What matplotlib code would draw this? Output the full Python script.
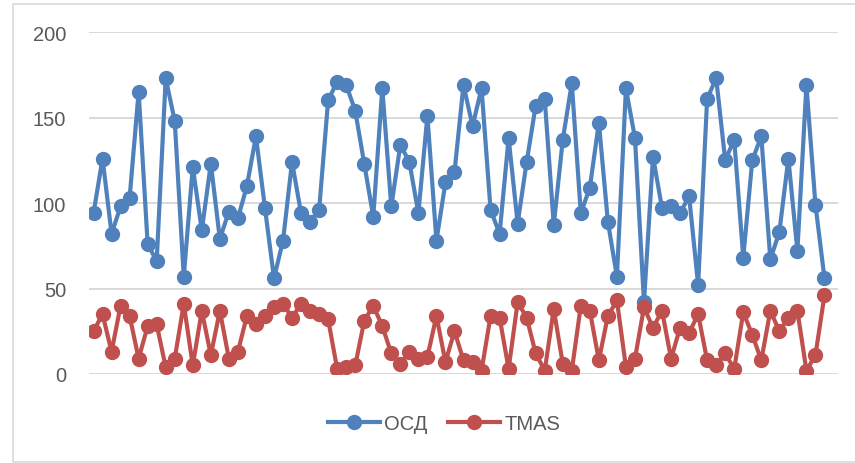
import matplotlib
matplotlib.use("Agg")
import matplotlib.pyplot as plt
from matplotlib.patches import Rectangle
from matplotlib.lines import Line2D

plt.rcParams['font.family'] = ['Liberation Sans', 'DejaVu Sans']

osd = [94, 126, 82, 98, 103, 165, 76, 66, 173, 148, 57, 121, 84, 123, 79, 95, 91, 110, 139, 97, 56,
       78, 124, 94, 89, 96, 160, 171, 169, 154, 123, 92, 167, 98, 134, 124, 94, 151, 78, 112, 118, 169,
       145, 167, 96, 82, 138, 88, 124, 157, 161, 87, 137, 170, 94, 109, 147, 89, 57, 167, 138, 42, 127,
       97, 98, 94, 104, 52, 161, 173, 125, 137, 68, 125, 139, 67, 83, 126, 72, 169, 99, 56]

tmas = [25, 35, 13, 40, 34, 9, 28, 29, 4, 9, 41, 5, 37, 11, 37, 9, 13, 34, 29, 34, 39,
        41, 33, 41, 37, 35, 32, 3, 4, 5, 31, 40, 28, 12, 6, 13, 9, 10, 34, 7, 25, 8,
        7, 2, 34, 33, 3, 42, 33, 12, 2, 38, 6, 2, 40, 37, 8, 34, 43, 4, 9, 39, 27,
        37, 9, 27, 24, 35, 8, 5, 12, 3, 36, 23, 8, 37, 25, 33, 37, 2, 11, 46]

series_names = ["ОСД", "TMAS"]
y_ticks = [0, 50, 100, 150, 200]

blue = "#4F81BD"
red = "#C0504D"
text_col = "#595959"
grid_col = "#D9D9D9"

fig = plt.figure(figsize=(8.55, 4.64), dpi=100)
fig.patch.set_facecolor("white")

# light chart border
fig.patches.append(Rectangle((13 / 855, 1 / 464), 1.2, 458 / 464, transform=fig.transFigure,
                             fill=False, edgecolor=grid_col, linewidth=1.2))

ax = fig.add_axes([89 / 855, 1 - 375 / 464, 749 / 855, 342 / 464])
x = list(range(len(osd)))
ax.plot(x, osd, color=blue, lw=3.0, marker="o", ms=10, solid_joinstyle="round", zorder=3)
ax.plot(x, tmas, color=red, lw=3.0, marker="o", ms=10, solid_joinstyle="round", zorder=3)

ax.set_xlim(-0.5, 82.5)
ax.set_ylim(0, 200)
ax.set_yticks(y_ticks)
ax.set_yticklabels([str(v) for v in y_ticks], fontsize=14.5, color=text_col)
ax.tick_params(axis="y", length=0, pad=16.5)
ax.set_xticks([])
for s in ax.spines.values():
    s.set_visible(False)
ax.grid(axis="y", color=grid_col, lw=1.4)
ax.set_axisbelow(True)

handles = [Line2D([], [], color=blue, lw=3.0, marker="o", ms=10),
           Line2D([], [], color=red, lw=3.0, marker="o", ms=10)]
fig.legend(handles, series_names, loc="center", bbox_to_anchor=(444 / 855, 1 - 425 / 464),
           ncol=2, frameon=False, fontsize=14.5, handlelength=2.6, handletextpad=0.2,
           columnspacing=1.0, labelcolor=text_col)

fig.savefig("out.png", dpi=100, facecolor="white")
